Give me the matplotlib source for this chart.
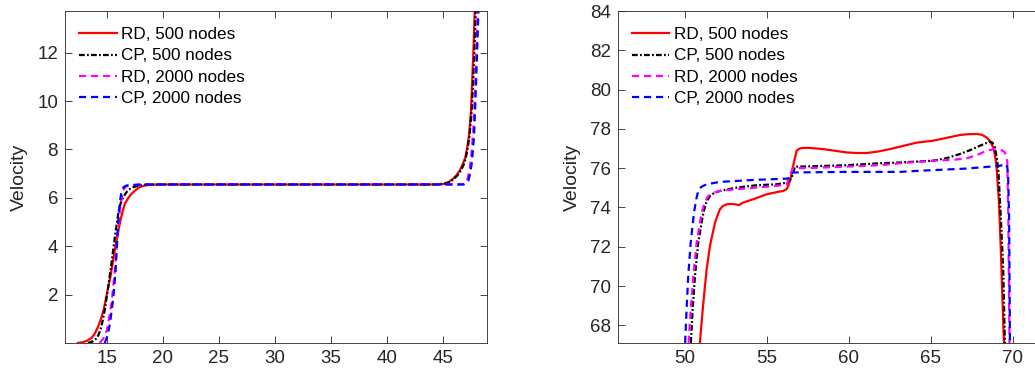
import numpy as np
import matplotlib
matplotlib.use("Agg")
import matplotlib.pyplot as plt

# ---- data ---------------------------------------------------------------
labels = ["RD, 500 nodes", "CP, 500 nodes", "RD, 2000 nodes", "CP, 2000 nodes"]

# left panel
rd500_l_x = [12.4, 12.8, 13.2, 13.6, 13.9, 14.2, 14.45, 14.7, 15.0, 15.3, 15.6, 15.9, 16.2, 16.4, 16.6,
             16.9, 17.2, 17.55, 17.9, 18.4, 19.0, 19.5,
             25.0, 30.0, 35.0, 40.0, 43.8, 44.5, 45.0, 45.5, 45.9, 46.2, 46.5, 46.75, 47.0, 47.15,
             47.3, 47.4, 47.5, 47.62, 47.74, 47.83, 47.9]
rd500_l_y = [0.0, 0.03, 0.09, 0.2, 0.38, 0.67, 0.98, 1.36, 2.05, 2.73, 3.56, 4.38, 5.07, 5.45, 5.76,
             6.0, 6.17, 6.32, 6.44, 6.51, 6.54, 6.55,
             6.55, 6.55, 6.55, 6.55, 6.55, 6.56, 6.57, 6.65, 6.79, 6.93, 7.13, 7.37, 7.68, 8.05,
             8.5, 9.0, 9.6, 10.97, 12.35, 13.72, 14.5]

cp500_l_x = [13.3, 13.7, 14.1, 14.3, 14.5, 14.8, 15.1, 15.4, 15.7, 16.0, 16.2, 16.45, 16.75, 17.05,
             17.35, 17.65, 18.5,
             25.0, 30.0, 35.0, 40.0, 43.9, 44.6, 45.1, 45.6, 46.0, 46.3, 46.6, 46.85, 47.05, 47.2,
             47.35, 47.45, 47.56, 47.71, 47.83, 47.92, 48.0]
cp500_l_y = [0.0, 0.06, 0.2, 0.4, 0.67, 1.36, 2.3, 3.28, 4.38, 5.34, 5.75, 6.03, 6.24, 6.37,
             6.44, 6.48, 6.55,
             6.55, 6.55, 6.55, 6.55, 6.55, 6.56, 6.57, 6.65, 6.79, 6.93, 7.13, 7.37, 7.68, 8.05,
             8.5, 9.0, 9.6, 10.97, 12.35, 13.72, 14.5]

rd2000_l_x = [14.35, 14.7, 15.0, 15.4, 15.7, 15.95, 16.15, 16.3, 16.45, 16.65, 16.9, 18.0,
              25.0, 30.0, 35.0, 40.0, 46.9, 47.1, 47.2, 47.35, 47.5, 47.7, 47.85, 48.0, 48.1, 48.2]
rd2000_l_y = [0.0, 0.2, 0.54, 1.63, 3.0, 4.38, 5.48, 5.98, 6.3, 6.45, 6.51, 6.55,
              6.55, 6.55, 6.55, 6.55, 6.56, 6.65, 6.8, 7.1, 7.6, 8.8, 10.3, 12.3, 13.8, 14.5]

cp2000_l_x = [14.8, 15.05, 15.27, 15.57, 15.77, 15.92, 16.07, 16.2, 16.31, 16.5, 16.76, 18.0,
              25.0, 30.0, 35.0, 40.0, 46.8, 47.05, 47.26, 47.42, 47.56, 47.77, 47.92, 48.07, 48.16, 48.22]
cp2000_l_y = [0.0, 0.3, 0.82, 1.9, 3.0, 4.38, 5.48, 5.98, 6.3, 6.45, 6.51, 6.55,
              6.55, 6.55, 6.55, 6.55, 6.55, 6.6, 6.7, 7.0, 7.4, 8.5, 10.3, 12.35, 13.72, 14.5]

# right panel
rd500_r_x = [50.85, 51.12, 51.32, 51.52, 51.83, 52.0, 52.13, 52.3, 52.54, 52.8, 53.05, 53.3, 53.56, 54.17,
             54.98, 55.6, 55.99, 56.2, 56.3, 56.45, 56.6, 56.81, 57.0, 57.21, 57.6, 58.43, 59.2, 59.86,
             60.5, 61.08, 61.8, 62.5, 64.13, 65.14, 66.0, 66.77, 67.3, 67.78, 68.1, 68.39, 68.6, 68.8,
             68.9, 69.0, 69.15, 69.27, 69.37, 69.45, 69.5]
rd500_r_y = [66.5, 69.13, 70.83, 72.02, 73.22, 73.62, 73.9, 74.06, 74.16, 74.18, 74.16, 74.12, 74.25, 74.42,
             74.67, 74.78, 74.84, 74.93, 75.1, 75.5, 76.12, 76.89, 77.0, 77.03, 77.03, 76.97, 76.88, 76.8,
             76.77, 76.77, 76.85, 76.97, 77.3, 77.4, 77.55, 77.69, 77.73, 77.74, 77.7, 77.57, 77.38, 77.06,
             76.7, 76.12, 74.25, 71.69, 69.13, 67.16, 66.5]

cp500_r_x = [50.32, 50.47, 50.61, 50.81, 51.12, 51.3, 51.52, 51.8, 52.13, 53.15, 54.37, 55.59, 56.3,
             56.5, 56.71, 57.01, 59.86, 61.89, 63.11, 65.14, 66.0, 66.77, 67.4, 67.99, 68.3, 68.56,
             68.75, 68.9, 69.0, 69.11, 69.27, 69.41, 69.51, 69.55]
cp500_r_y = [66.5, 68.79, 70.49, 72.2, 73.73, 74.25, 74.58, 74.75, 74.84, 75.01, 75.13, 75.18, 75.27,
             75.5, 76.08, 76.08, 76.15, 76.25, 76.29, 76.38, 76.52, 76.72, 76.92, 77.14, 77.25, 77.35,
             77.3, 77.06, 76.6, 75.95, 73.39, 70.83, 67.16, 66.5]

rd2000_r_x = [50.18, 50.35, 50.51, 50.71, 51.02, 51.2, 51.42, 51.75, 52.13, 53.15, 54.37, 55.59, 56.2,
              56.4, 56.57, 57.42, 59.86, 61.89, 63.11, 65.14, 66.3, 67.18, 67.9, 68.39, 68.8, 69.11,
              69.35, 69.51, 69.62, 69.66, 69.72, 69.76, 69.8]
rd2000_r_y = [66.5, 68.79, 70.49, 72.2, 73.73, 74.25, 74.58, 74.75, 74.84, 74.93, 75.01, 75.1, 75.18,
              75.6, 76.0, 76.0, 76.08, 76.15, 76.25, 76.38, 76.42, 76.5, 76.7, 76.89, 76.96, 76.94,
              76.9, 76.8, 76.6, 76.29, 73.5, 70.0, 66.5]

cp2000_r_x = [49.98, 50.1, 50.2, 50.35, 50.55, 50.7, 50.81, 51.0, 51.32, 52.13, 54.17, 56.3, 56.44, 56.6,
              59.86, 63.11, 64.13, 67.18, 69.21, 69.45, 69.57, 69.66, 69.71, 69.77, 69.82, 69.84]
cp2000_r_y = [66.5, 68.79, 70.49, 72.2, 73.73, 74.45, 74.84, 75.05, 75.18, 75.3, 75.4, 75.47, 75.69, 75.78,
              75.81, 75.81, 75.86, 75.98, 76.12, 76.18, 76.2, 76.05, 75.6, 73.39, 67.16, 66.5]

# ---- styling -------------------------------------------------------------
plt.rcParams["font.family"] = ["Liberation Sans", "DejaVu Sans"]
txt = "#262626"
styles = [dict(color="red", ls="-", lw=1.6),
          dict(color="black", ls=(0, (2.6, 1.0, 0.8, 1.0)), lw=1.6),
          dict(color="magenta", ls=(0, (3.2, 2.2)), lw=1.6),
          dict(color="blue", ls=(0, (3.2, 2.2)), lw=1.6)]

fig = plt.figure(figsize=(10.35, 3.76), dpi=100)
ax1 = fig.add_axes([65 / 1035, 33 / 376, 422 / 1035, 332 / 376])
ax2 = fig.add_axes([617.7 / 1035, 33 / 376, 428 / 1035, 332 / 376])

left = [(rd500_l_x, rd500_l_y), (cp500_l_x, cp500_l_y), (rd2000_l_x, rd2000_l_y), (cp2000_l_x, cp2000_l_y)]
right = [(rd500_r_x, rd500_r_y), (cp500_r_x, cp500_r_y), (rd2000_r_x, rd2000_r_y), (cp2000_r_x, cp2000_r_y)]

for ax, series in [(ax1, left), (ax2, right)]:
    for (x, y), st, lab in zip(series, styles, labels):
        ax.plot(x, y, label=lab, **st)

ax1.set_xlim(11.25, 48.93)
ax1.set_ylim(0, 13.72)
ax1.set_xticks([15, 20, 25, 30, 35, 40, 45])
ax1.set_yticks([2, 4, 6, 8, 10, 12])

ax2.set_xlim(45.9, 72.0)
ax2.set_ylim(67.1, 84)
ax2.set_xticks([50, 55, 60, 65, 70])
ax2.set_yticks([68, 70, 72, 74, 76, 78, 80, 82, 84])

for ax in (ax1, ax2):
    w = ax.get_position().width * 1035
    for s in ax.spines.values():
        s.set_color(txt)
        s.set_linewidth(0.6)
    ax.tick_params(direction="in", top=True, right=True, length=5, width=0.6,
                   colors=txt, labelsize=13.5, pad=5)
    ax.set_ylabel("Velocity", fontsize=14, color=txt)
    ax.yaxis.set_label_coords(-37 / w, 0.5)
    ax.legend(loc="upper left", frameon=False, fontsize=12.3,
              bbox_to_anchor=(14 / w, 1 - 16 / 332), borderaxespad=0, borderpad=0,
              handlelength=2.2, handletextpad=0.25, labelspacing=0.38)

fig.savefig("out.png", dpi=100)
